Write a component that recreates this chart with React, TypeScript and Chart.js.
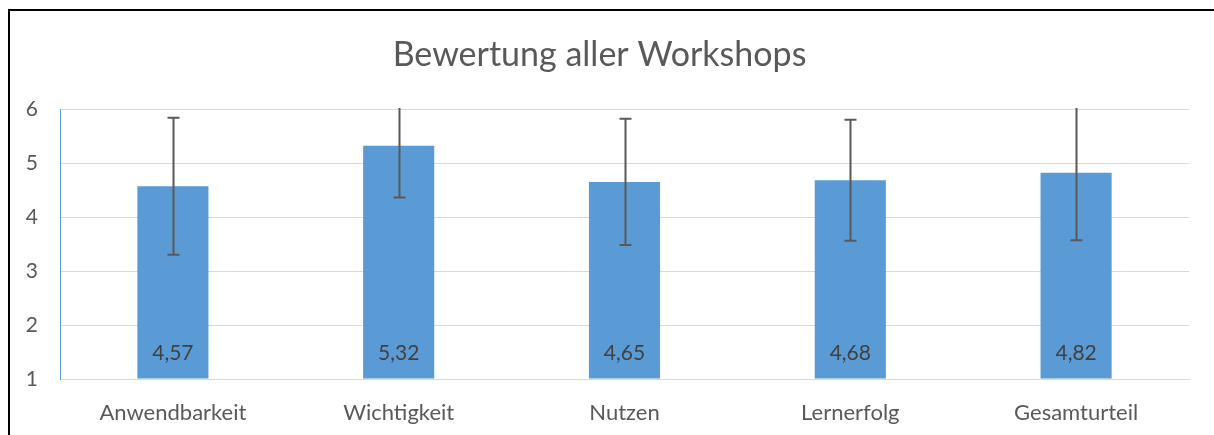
import React, { useEffect, useRef } from "react";
import { Chart, registerables } from "chart.js";

Chart.register(...registerables);

const categories = ["Anwendbarkeit", "Wichtigkeit", "Nutzen", "Lernerfolg", "Gesamturteil"];
const means = [4.57, 5.32, 4.65, 4.68, 4.82];
const deviations = [1.27, 0.96, 1.17, 1.12, 1.25];
const yTicks = [1, 2, 3, 4, 5, 6];
const titleText = "Bewertung aller Workshops";

const FONT = "Lato, 'Open Sans', sans-serif";

const errorBarPlugin = {
  id: "errorBars",
  afterDatasetsDraw(chart: any) {
    const { ctx, chartArea } = chart;
    const meta = chart.getDatasetMeta(0);
    const y = chart.scales.y;
    ctx.save();
    ctx.beginPath();
    ctx.rect(chartArea.left, chartArea.top - 1, chartArea.right - chartArea.left, chartArea.bottom - chartArea.top + 2);
    ctx.clip();
    ctx.strokeStyle = "#595959";
    ctx.lineWidth = 2;
    meta.data.forEach((bar: any, i: number) => {
      const x = Math.round(bar.x) + 0.5;
      const top = y.getPixelForValue(means[i] + deviations[i]);
      const bot = y.getPixelForValue(means[i] - deviations[i]);
      ctx.beginPath();
      ctx.moveTo(x, top);
      ctx.lineTo(x, bot);
      ctx.moveTo(x - 6, top);
      ctx.lineTo(x + 6, top);
      ctx.moveTo(x - 6, bot);
      ctx.lineTo(x + 6, bot);
      ctx.stroke();
    });
    ctx.restore();
  },
};

const valueLabelPlugin = {
  id: "valueLabels",
  afterDraw(chart: any) {
    const { ctx, chartArea } = chart;
    const meta = chart.getDatasetMeta(0);
    ctx.save();
    ctx.font = `21px ${FONT}`;
    ctx.fillStyle = "#404040";
    ctx.textAlign = "center";
    ctx.textBaseline = "middle";
    meta.data.forEach((bar: any, i: number) => {
      ctx.fillText(means[i].toFixed(2).replace(".", ","), bar.x, chartArea.bottom - 26);
    });
    ctx.restore();
  },
};

export default function App() {
  const ref = useRef<HTMLCanvasElement>(null);
  useEffect(() => {
    if (!ref.current) return;
    const chart = new Chart(ref.current, {
      type: "bar",
      data: {
        labels: categories,
        datasets: [
          {
            data: means,
            backgroundColor: "#5B9BD5",
            borderWidth: 0,
            barPercentage: 0.315,
            categoryPercentage: 1,
            base: 1,
          },
        ],
      },
      options: {
        animation: false,
        responsive: false,
        maintainAspectRatio: false,
        layout: { padding: { left: 0, right: 25, top: 0, bottom: 0 } },
        plugins: {
          legend: { display: false },
          tooltip: { enabled: false },
          title: {
            display: true,
            text: titleText,
            color: "#595959",
            font: { family: FONT, size: 34, weight: "normal" },
            padding: { top: 23.6, bottom: 33.6 },
          },
        },
        scales: {
          x: {
            grid: { display: false, drawTicks: false },
            border: { color: "#d9d9d9", width: 1 },
            ticks: { color: "#595959", font: { family: FONT, size: 22 }, padding: 21 },
            afterFit: (s: any) => { s.height = 56; },
          },
          y: {
            min: 1,
            max: 6,
            afterBuildTicks: (s: any) => { s.ticks = yTicks.map((v) => ({ value: v })); },
            grid: { color: "#d9d9d9", lineWidth: 1, drawTicks: false },
            border: { color: "#5B9BD5", width: 1 },
            ticks: { color: "#595959", font: { family: FONT, size: 21 }, padding: 22 },
            afterFit: (s: any) => { s.width = 50; },
          },
        },
      },
      plugins: [errorBarPlugin, valueLabelPlugin],
    });
    return () => chart.destroy();
  }, []);
  return (
    <div
      style={{
        position: "fixed",
        left: 8,
        top: 9,
        width: 1230,
        height: 440,
        borderLeft: "2px solid #000",
        borderTop: "2px solid #000",
        background: "#fff",
      }}
    >
      <canvas ref={ref} width={1204} height={424} style={{ display: "block" }} />
    </div>
  );
}
